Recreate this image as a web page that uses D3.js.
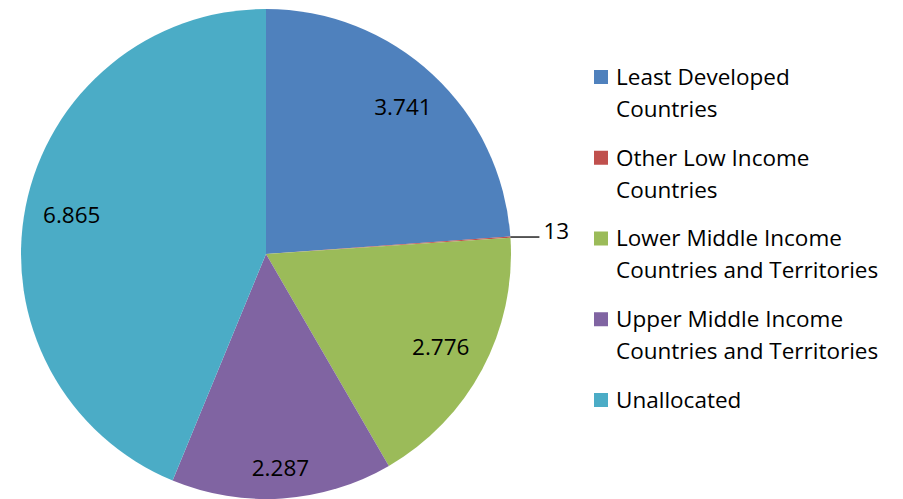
<!DOCTYPE html>
<html>
<head>
<meta charset="utf-8">
<script src="https://cdn.jsdelivr.net/npm/d3@7"></script>
<style>
  body { margin: 0; background: #fff; }
  svg { display: block; }
</style>
</head>
<body>
<div id="chart"></div>
<script>
// data
var categories = ["Least Developed Countries", "Other Low Income Countries",
    "Lower Middle Income Countries and Territories",
    "Upper Middle Income Countries and Territories", "Unallocated"]
var values = [3741, 13, 2776, 2287, 6865]
var legendLines = [["Least Developed", "Countries"], ["Other Low Income", "Countries"],
    ["Lower Middle Income", "Countries and Territories"],
    ["Upper Middle Income", "Countries and Territories"], ["Unallocated"]]
var colors = ["#4F81BD", "#C0504D", "#9BBB59", "#8064A2", "#4BACC6"]

var width = 903, height = 499
var cx = 266, cy = 254, radius = 245
var fontFam = "'Open Sans', Lato, sans-serif"
var fontSize = "22.5px"

var svg = d3.select("#chart").append("svg")
    .attr("width", width)
    .attr("height", height)

var pie = d3.pie().sort(null).value(function (d) { return d })
var arc = d3.arc().innerRadius(0).outerRadius(radius)
var arcs = pie(values)

var g = svg.append("g").attr("transform", "translate(" + cx + "," + cy + ")")

g.selectAll("path.slice")
    .data(arcs)
    .enter()
    .append("path")
    .attr("class", "slice")
    .attr("fill", function (d, i) { return colors[i] })
    .attr("d", arc)

// european style thousands separator like the original
var fmt = function (v) { return v >= 1000 ? d3.format(",")(v).replace(/,/g, ".") : String(v) }

var labelW = 62, labelH = 22, margin = 15
arcs.forEach(function (d, i) {
    var mid = (d.startAngle + d.endAngle) / 2
    var sx = Math.sin(mid), sy = -Math.cos(mid)
    if (d.endAngle - d.startAngle < 0.05) {
        // tiny slice: label outside with a leader line
        var px = radius * sx, py = radius * sy
        g.append("line")
            .attr("x1", px).attr("y1", py)
            .attr("x2", px + 29).attr("y2", py)
            .attr("stroke", "#000").attr("stroke-width", 1.3)
        g.append("text")
            .attr("x", px + 33).attr("y", py - 6)
            .attr("dy", "0.35em")
            .attr("font-family", fontFam).attr("font-size", fontSize)
            .attr("fill", "#000")
            .text(fmt(values[i]))
        return
    }
    // push label out along the ray until its box touches the edge
    var t = 0
    for (var k = 0; k < 400; k++) {
        var x = t * sx + Math.sign(sx) * labelW / 2
        var y = t * sy + Math.sign(sy) * labelH / 2
        if (Math.sqrt(x * x + y * y) > radius - margin) break
        t += 1
    }
    g.append("text")
        .attr("x", t * sx).attr("y", t * sy)
        .attr("dy", "0.35em")
        .attr("text-anchor", "middle")
        .attr("font-family", fontFam).attr("font-size", fontSize)
        .attr("fill", "#000")
        .text(fmt(values[i]))
})

// legend
var legendY = d3.scalePoint().domain(categories).range([77, 400])
var legend = svg.selectAll("g.legend")
    .data(categories)
    .enter()
    .append("g")
    .attr("class", "legend")
    .attr("transform", function (d) { return "translate(594," + legendY(d) + ")" })

legend.append("rect")
    .attr("x", 0).attr("y", -7)
    .attr("width", 14).attr("height", 14)
    .attr("fill", function (d, i) { return colors[i] })

legend.each(function (d, i) {
    var t = d3.select(this).append("text")
        .attr("font-family", fontFam).attr("font-size", fontSize)
        .attr("fill", "#000")
    legendLines[i].forEach(function (line, j) {
        t.append("tspan")
            .attr("x", 22)
            .attr("y", j * 32)
            .attr("dy", "0.35em")
            .text(line)
    })
})
</script>
</body>
</html>
